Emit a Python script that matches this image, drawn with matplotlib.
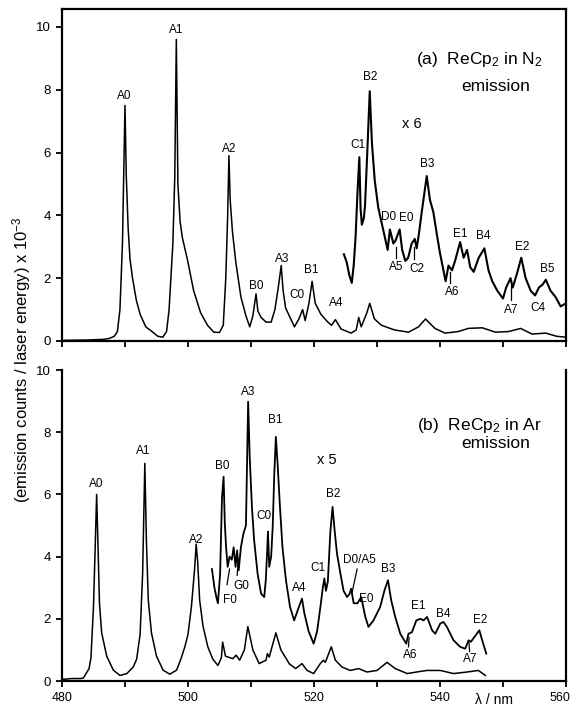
import matplotlib
matplotlib.use("Agg")
import matplotlib.pyplot as plt
from matplotlib.ticker import MultipleLocator, FuncFormatter

plt.rcParams["font.family"] = ["Liberation Sans", "DejaVu Sans"]
plt.rcParams["mathtext.fontset"] = "custom"
plt.rcParams["mathtext.rm"] = "Liberation Sans"
plt.rcParams["mathtext.it"] = "Liberation Sans:italic"

# ---- (a) ReCp2 in N2 : spectre complet ----
wl_a = [480, 484, 486.5, 487.5, 488.3, 488.8, 489.2, 489.6, 490.0, 490.2,
        490.5, 490.8, 491.2, 491.8, 492.4, 493.3, 494.3, 495.2, 496.0, 496.6,
        497.0, 497.6, 497.9, 498.15, 498.4, 498.75, 499.1, 499.9, 500.9, 502.0,
        503.1, 504.1, 505.0, 505.6, 506.0, 506.3, 506.5, 506.7, 507.05, 507.6,
        508.4, 509.2, 509.8, 510.3, 510.8, 511.1, 511.6, 512.4, 513.2, 513.8,
        514.4, 514.8, 515.1, 515.5, 516.2, 516.9, 517.6, 518.2, 518.6, 519.2,
        519.7, 520.2, 521.1, 522.2, 522.8, 523.4, 524.3, 525.9, 526.7, 527.1,
        527.5, 528.4, 528.85, 529.6, 530.7, 532.8, 535.0, 536.6, 537.7, 539.2,
        540.8, 542.9, 544.5, 546.7, 548.8, 550.9, 552.8, 554.6, 556.8, 558.5,
        560]
int_a = [0.02, 0.03, 0.05, 0.08, 0.15, 0.3, 1.0, 3.1, 7.5, 5.3,
         3.6, 2.6, 2.0, 1.3, 0.85, 0.45, 0.3, 0.15, 0.12, 0.3,
         1.0, 3.1, 5.2, 9.6, 5.0, 3.8, 3.3, 2.6, 1.6, 0.9,
         0.5, 0.28, 0.27, 0.5, 2.0, 4.0, 5.9, 4.5, 3.5, 2.5,
         1.4, 0.8, 0.45, 0.8, 1.5, 0.95, 0.75, 0.6, 0.6, 1.0,
         1.8, 2.4, 1.6, 1.05, 0.75, 0.45, 0.7, 1.0, 0.65, 1.2,
         1.9, 1.2, 0.85, 0.6, 0.5, 0.68, 0.38, 0.25, 0.35, 0.75,
         0.45, 0.9, 1.2, 0.7, 0.5, 0.35, 0.28, 0.45, 0.7, 0.4,
         0.25, 0.3, 0.4, 0.42, 0.28, 0.3, 0.4, 0.22, 0.25, 0.15,
         0.12]

# (a) zone agrandie x 6
wl_a6 = [524.75, 525.2, 525.6, 526.0, 526.3, 526.6, 526.9, 527.2, 527.4, 527.6,
         527.9, 528.1, 528.5, 528.85, 529.2, 529.65, 530.2, 530.7, 531.25, 531.7,
         532.05, 532.6, 532.95, 533.6, 534.0, 534.5, 534.95, 535.5, 536.0, 536.3,
         536.65, 537.1, 537.9, 538.4, 538.95, 539.5, 540.0, 540.55, 540.9, 541.35,
         541.9, 542.4, 543.2, 543.75, 544.3, 544.8, 545.35, 546.15, 547.05, 547.7,
         548.3, 549.1, 550.0, 550.5, 551.2, 551.55, 552.3, 552.9, 553.6, 554.4,
         555.1, 555.7, 556.3, 556.8, 557.55, 558.35, 559.15, 560]
int_a6 = [2.76, 2.5, 2.1, 1.85, 2.4, 3.3, 4.7, 5.85, 4.2, 3.7,
          3.9, 4.3, 6.2, 7.95, 6.3, 5.1, 4.25, 3.8, 3.3, 2.9,
          3.55, 3.1, 3.2, 3.55, 2.9, 2.55, 2.65, 3.1, 3.25, 2.95,
          3.4, 4.1, 5.25, 4.5, 4.1, 3.4, 2.8, 2.25, 1.9, 2.4,
          2.25, 2.55, 3.15, 2.65, 2.9, 2.35, 2.2, 2.65, 2.95, 2.25,
          1.9, 1.6, 1.35, 1.7, 2.0, 1.7, 2.2, 2.65, 2.0, 1.6,
          1.45, 1.7, 1.8, 1.95, 1.6, 1.4, 1.1, 1.2]

# ---- (b) ReCp2 in Ar : spectre complet ----
wl_b = [480, 481.5, 483.0, 483.4, 484.0, 484.3, 484.6, 485.0, 485.3, 485.5,
        485.7, 485.95, 486.3, 487.1, 488.15, 489.2, 490.3, 491.3, 491.85, 492.4,
        492.8, 493.15, 493.4, 493.7, 494.2, 495.0, 496.05, 497.1, 498.2, 498.95,
        499.5, 500.0, 500.55, 501.05, 501.3, 501.55, 501.85, 502.4, 503.15, 503.95,
        504.75, 505.3, 505.5, 505.95, 507.1, 507.65, 508.2, 508.95, 509.5, 510.3,
        511.3, 512.4, 512.6, 512.9, 513.95, 514.75, 516.1, 517.1, 518.1, 518.9,
        519.95, 521.0, 521.5, 521.8, 522.75, 523.4, 524.45, 525.75, 527.1, 528.4,
        530.0, 531.6, 532.9, 534.8, 536.9, 537.95, 540.05, 542.15, 544.3, 546.1,
        547.2]
int_b = [0.05, 0.08, 0.08, 0.1, 0.3, 0.4, 0.75, 2.4, 4.5, 6.0,
         4.5, 2.5, 1.55, 0.8, 0.35, 0.18, 0.24, 0.45, 0.7, 1.5,
         3.45, 7.0, 4.5, 2.6, 1.55, 0.8, 0.35, 0.22, 0.35, 0.75,
         1.1, 1.5, 2.4, 3.6, 4.4, 3.8, 2.6, 1.75, 1.1, 0.7,
         0.5, 0.75, 1.25, 0.8, 0.72, 0.83, 0.67, 1.0, 1.75, 1.0,
         0.56, 0.67, 0.88, 0.77, 1.55, 1.0, 0.55, 0.4, 0.56, 0.34,
         0.24, 0.56, 0.67, 0.6, 1.1, 0.67, 0.45, 0.34, 0.4, 0.29,
         0.34, 0.6, 0.4, 0.24, 0.31, 0.34, 0.34, 0.24, 0.29, 0.34,
         0.18]

# (b) zone agrandie x 5
wl_b5 = [503.8, 504.2, 504.5, 504.75, 505.1, 505.4, 505.65, 505.85, 506.05, 506.3,
         506.6, 506.95, 507.25, 507.55, 507.8, 508.05, 508.4, 508.8, 509.2, 509.55,
         509.8, 510.15, 510.5, 511.05, 511.6, 512.1, 512.35, 512.55, 512.7, 512.9,
         513.2, 513.45, 513.7, 513.95, 514.25, 514.6, 515.0, 515.55, 516.2, 516.85,
         517.55, 518.1, 518.45, 519.15, 519.95, 520.5, 521.0, 521.4, 521.65, 521.9,
         522.2, 522.6, 522.95, 523.25, 523.65, 524.2, 524.7, 525.25, 525.65, 525.9,
         526.3, 526.9, 527.5, 528.15, 528.65, 529.45, 530.5, 531.2, 531.75, 532.25,
         532.9, 533.7, 534.65, 535.0, 535.55, 536.25, 536.9, 537.4, 537.95, 538.75,
         539.25, 540.05, 540.55, 541.1, 542.15, 543.2, 544.0, 544.55, 544.9, 546.25,
         546.7, 547.35]
int_b5 = [3.6, 3.0, 2.7, 2.5, 3.45, 5.9, 6.57, 5.06, 4.3, 3.67,
          4.0, 3.9, 4.3, 3.67, 4.2, 3.56, 4.3, 4.74, 5.0, 8.98,
          7.2, 5.6, 4.53, 3.45, 2.81, 2.7, 3.24, 4.1, 4.8, 3.67,
          4.0, 4.96, 6.67, 7.85, 6.9, 5.6, 4.3, 3.24, 2.38, 1.95,
          2.35, 2.65, 2.2, 1.6, 1.2, 1.6, 2.35, 3.0, 3.3, 2.9,
          3.2, 4.8, 5.6, 4.9, 4.1, 3.45, 2.9, 2.7, 2.8, 2.97,
          2.5, 2.5, 2.7, 2.06, 1.74, 1.95, 2.38, 2.92, 3.24, 2.6,
          2.06, 1.52, 1.2, 1.52, 1.57, 1.95, 2.0, 1.95, 2.06, 1.63,
          1.52, 1.85, 1.9, 1.74, 1.31, 1.1, 1.04, 1.31, 1.26, 1.63,
          1.31, 0.88]

# Étiquettes des bandes : (texte, x, y)
labels_a = [("A0", 489.9, 7.8), ("A1", 498.2, 9.9), ("A2", 506.5, 6.1),
            ("B0", 510.9, 1.75), ("A3", 514.9, 2.6), ("C0", 517.3, 1.45),
            ("B1", 519.6, 2.25), ("A4", 523.5, 1.2), ("C1", 526.9, 6.25),
            ("B2", 529.0, 8.4), ("D0", 531.9, 3.95), ("E0", 534.6, 3.9),
            ("A5", 533.1, 2.35), ("C2", 536.3, 2.3), ("B3", 537.9, 5.65),
            ("A6", 541.9, 1.55), ("E1", 543.2, 3.4), ("B4", 546.9, 3.35),
            ("E2", 553.0, 3.0), ("A7", 551.3, 1.0), ("C4", 555.5, 1.05),
            ("B5", 557.0, 2.3)]
ticks_a = [(533.0, 2.65, 533.0, 3.0), (535.9, 2.6, 535.9, 3.0),
           (541.6, 1.85, 541.6, 2.2), (551.3, 1.3, 551.3, 1.8)]

labels_b = [("A0", 485.4, 6.35), ("A1", 492.9, 7.4), ("A2", 501.3, 4.55),
            ("B0", 505.4, 6.9), ("A3", 509.6, 9.3), ("B1", 513.9, 8.4),
            ("C0", 512.1, 5.3), ("F0", 506.6, 2.6), ("G0", 508.5, 3.05),
            ("A4", 517.7, 3.0), ("C1", 520.6, 3.65), ("B2", 523.0, 6.0),
            ("D0/A5", 527.2, 3.9), ("E0", 528.3, 2.65), ("B3", 531.85, 3.6),
            ("A6", 535.3, 0.85), ("E1", 536.6, 2.4), ("B4", 540.55, 2.15),
            ("A7", 544.8, 0.72), ("E2", 546.4, 1.95)]
ticks_b = [(506.2, 3.1, 506.6, 3.6), (507.8, 3.4, 507.95, 3.8),
           (526.85, 3.6, 526.05, 2.85), (535.0, 1.1, 535.1, 1.4),
           (544.7, 0.95, 544.6, 1.25)]

fig = plt.figure(figsize=(5.75, 7.08), dpi=100)
ax1 = fig.add_axes([0.1078, 0.5184, 0.8765, 0.4689])
ax2 = fig.add_axes([0.1078, 0.0381, 0.8765, 0.4393])


def habiller(ax, ymax, labels_x):
    ax.set_xlim(480, 560)
    ax.set_ylim(0, ymax)
    ax.xaxis.set_major_locator(MultipleLocator(10))
    ax.set_yticks([0, 2, 4, 6, 8, 10])
    ax.tick_params(direction="out", length=4.5, width=1.3, labelsize=9.5,
                   colors="black")
    ax.tick_params(axis="x", labelsize=9)
    if labels_x:
        # 560 est placé à la main pour ne pas déborder du cadre
        ax.xaxis.set_major_formatter(FuncFormatter(
            lambda v, p: f"{v:.0f}" if v % 20 == 0 and v < 560 else ""))
    else:
        ax.set_xticklabels([])
    for s in ax.spines.values():
        s.set_linewidth(1.6)


habiller(ax1, 10.57, False)
habiller(ax2, 10.0, True)
ax2.spines["top"].set_visible(False)

ax1.plot(wl_a, int_a, color="black", lw=1.1)
ax1.plot(wl_a6, int_a6, color="black", lw=1.5)
ax2.plot(wl_b, int_b, color="black", lw=1.1)
ax2.plot(wl_b5, int_b5, color="black", lw=1.3)

for ax, labs, tks in [(ax1, labels_a, ticks_a), (ax2, labels_b, ticks_b)]:
    for t, x, y in labs:
        ax.text(x, y, t, ha="center", va="center", fontsize=8.5)
    for x0, y0, x1, y1 in tks:
        ax.plot([x0, x1], [y0, y1], color="black", lw=0.9)

ax1.text(535.5, 6.9, "x 6", ha="center", va="center", fontsize=10.5)
ax2.text(522.05, 7.1, "x 5", ha="center", va="center", fontsize=10.5)

ax1.text(546.3, 8.95, "(a)  ReCp$_2$ in N$_2$", ha="center", va="center",
         fontsize=12.5)
ax1.text(548.8, 8.1, "emission", ha="center", va="center", fontsize=12.5)
ax2.text(546.3, 8.2, "(b)  ReCp$_2$ in Ar", ha="center", va="center",
         fontsize=12.5)
ax2.text(548.8, 7.65, "emission", ha="center", va="center", fontsize=12.5)

xt = ax2.get_xaxis_transform()
ax2.text(559.0, -0.055, "560", transform=xt, ha="center", va="center",
         fontsize=9, clip_on=False)
ax2.text(548.5, -0.062, "λ / nm", transform=xt, ha="center", va="center",
         fontsize=10, clip_on=False)

fig.text(0.038, 0.4915, "(emission counts / laser energy) x 10$^{-3}$",
         rotation=90, ha="center", va="center", fontsize=12)

fig.savefig("out.png", dpi=100, facecolor="white")
